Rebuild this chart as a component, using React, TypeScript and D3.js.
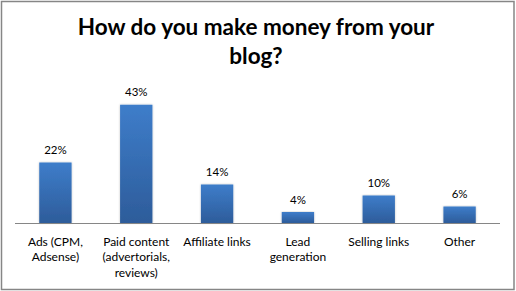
import React from "react";
import * as d3 from "d3";

const categories: string[][] = [
  ["Ads (CPM,", "Adsense)"],
  ["Paid content", "(advertorials,", "reviews)"],
  ["Affiliate links"],
  ["Lead", "generation"],
  ["Selling links"],
  ["Other"],
];
const values: number[] = [22, 43, 14, 4, 10, 6];
const titleLines: string[] = ["How do you make money from your", "blog?"];

const W = 516;
const H = 291;
const FONT = "Lato, 'Open Sans', sans-serif";

export default function App() {
  const x = d3
    .scaleBand<number>()
    .domain(values.map((_, i) => i))
    .range([15, 500])
    .paddingInner(0.6)
    .paddingOuter(0.3);
  const y = d3.scaleLinear().domain([0, 50]).range([223, 85.5]);

  return (
    <svg
      width={W}
      height={H}
      style={{ position: "absolute", left: 0, top: 0 }}
      fontFamily={FONT}
    >
      <defs>
        <linearGradient id="barFill" x1="0" y1="0" x2="0" y2="1">
          <stop offset="0%" stopColor="#3e7dca" />
          <stop offset="100%" stopColor="#2d5c9a" />
        </linearGradient>
        <filter id="barShadow" x="-20%" y="-5%" width="140%" height="110%">
          <feGaussianBlur in="SourceAlpha" stdDeviation="1" />
          <feOffset dx="0" dy="0" result="b" />
          <feComponentTransfer>
            <feFuncA type="linear" slope="0.25" />
          </feComponentTransfer>
          <feMerge>
            <feMergeNode />
            <feMergeNode in="SourceGraphic" />
          </feMerge>
        </filter>
      </defs>
      <rect x={0} y={0} width={W} height={H} fill="#ffffff" />
      <rect
        x={1.5}
        y={1.5}
        width={512.5}
        height={288}
        fill="#ffffff"
        stroke="#868686"
        strokeWidth={1.5}
      />
      {titleLines.map((t, i) => (
        <text
          key={i}
          x={256}
          y={35 + i * 28.5}
          textAnchor="middle"
          fontSize={22.5}
          fontWeight="bold"
          fill="#000"
        >
          {t}
        </text>
      ))}
      {values.map((v, i) => (
        <g key={i}>
          <rect
            x={x(i)}
            y={y(v)}
            width={x.bandwidth()}
            height={y(0) - y(v)}
            fill="url(#barFill)"
            filter="url(#barShadow)"
          />
          <text
            x={(x(i) as number) + x.bandwidth() / 2}
            y={y(v) - 8.5}
            textAnchor="middle"
            fontSize={11.5}
            fill="#000"
          >
            {v}%
          </text>
        </g>
      ))}
      <line x1={15} x2={500} y1={223.5} y2={223.5} stroke="#868686" strokeWidth={1} />
      {categories.map((lines, i) =>
        lines.map((l, j) => (
          <text
            key={`${i}-${j}`}
            x={(x(i) as number) + x.bandwidth() / 2}
            y={245.5 + j * 15.5}
            textAnchor="middle"
            fontSize={12}
            fill="#000"
          >
            {l}
          </text>
        ))
      )}
    </svg>
  );
}
